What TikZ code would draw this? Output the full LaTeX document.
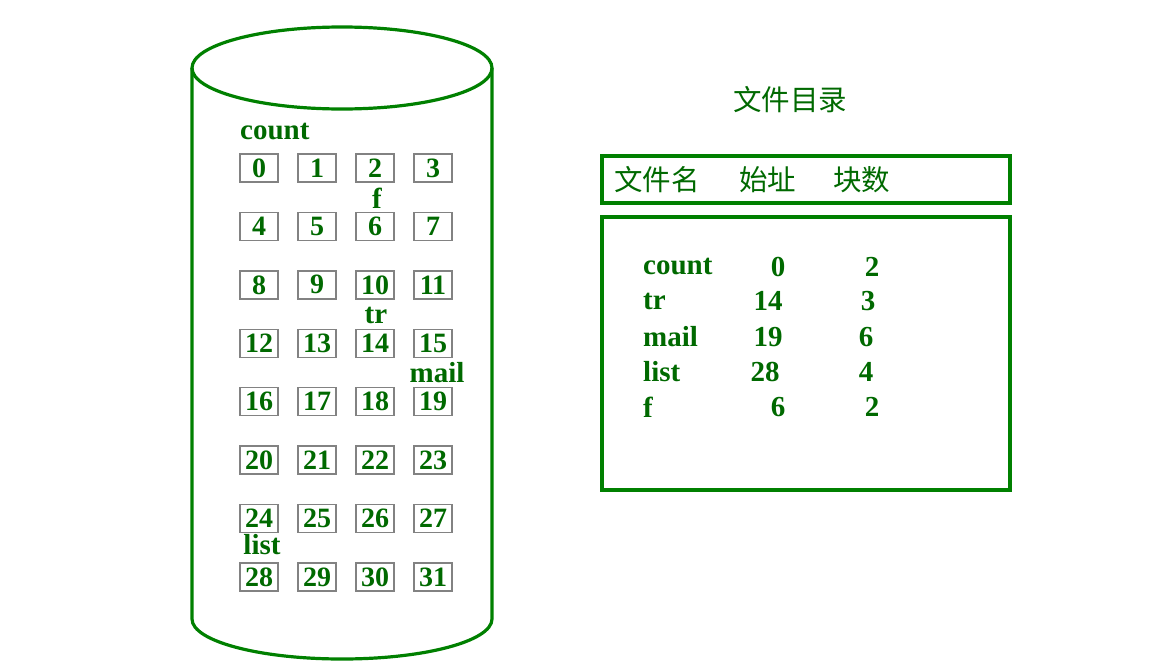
\documentclass[tikz,border=0pt]{standalone}
\usepackage{fontspec}
\setmainfont{Liberation Serif}
\newfontfamily\cjk{Noto Sans CJK SC}
\definecolor{linegreen}{RGB}{0,128,0}
\definecolor{textgreen}{RGB}{0,105,0}
\definecolor{boxgray}{RGB}{130,130,130}
\begin{document}
\begin{tikzpicture}[x=1pt,y=-1pt,
  txt/.style={text=textgreen,font=\fontsize{29}{32}\selectfont\bfseries,inner sep=0pt},
  cjkt/.style={text=textgreen,font=\fontsize{28.5}{32}\selectfont\cjk,inner sep=0pt},
  blk/.style={draw=boxgray,line width=1.4pt,minimum width=38pt,minimum height=28pt,inner sep=0pt,text=textgreen,font=\fontsize{28}{30}\selectfont\bfseries},
  gline/.style={draw=linegreen,line width=3.2pt}]
\useasboundingbox (0,0) rectangle (1164,664);
% cylinder
\draw[gline] (342,68) ellipse [x radius=150, y radius=41];
\draw[gline] (192,68) -- (192,619) arc[start angle=180,end angle=360,x radius=150,y radius=-40] -- (492,68);
% blocks
\foreach \i in {0,...,31}{
  \pgfmathtruncatemacro{\r}{int(\i/4)}
  \pgfmathtruncatemacro{\c}{mod(\i,4)}
  \node[blk] (b\i) at ({259+58*\c},{168+58.43*\r}) {\i};
}
\node[txt,anchor=west] (lcount) at (240,132) {count};
\node[txt] (lf) at (377,198) {f};
\node[txt] (ltr) at (376,315) {tr};
\node[txt] (lmail) at (437,373) {mail};
\node[txt] (llist) at (262,545) {list};
% directory
\node[cjkt] (title) at (790,100) {文件目录};
\node[gline,minimum width=408pt,minimum height=47pt,inner sep=0pt] (hdr) at (806,179.5) {};
\node[cjkt,anchor=west] (h1) at (614,180) {文件名};
\node[cjkt,anchor=west] (h2) at (739,180) {始址};
\node[cjkt,anchor=west] (h3) at (833,180) {块数};
\node[gline,minimum width=408pt,minimum height=273pt,inner sep=0pt] (body) at (806,353.5) {};
\node[txt,anchor=west] (n1) at (643,267) {count};
\node[txt,anchor=west] (n2) at (643,301) {tr};
\node[txt,anchor=west] (n3) at (643,337) {mail};
\node[txt,anchor=west] (n4) at (643,372) {list};
\node[txt,anchor=west] (n5) at (643,407) {f};
\node[txt] (s1) at (778,267) {0};
\node[txt] (s2) at (768,301) {14};
\node[txt] (s3) at (768,337) {19};
\node[txt] (s4) at (765,372) {28};
\node[txt] (s5) at (778,407) {6};
\node[txt] (c1) at (872,267) {2};
\node[txt] (c2) at (868,301) {3};
\node[txt] (c3) at (866,337) {6};
\node[txt] (c4) at (866,372) {4};
\node[txt] (c5) at (872,407) {2};
\end{tikzpicture}
\end{document}
